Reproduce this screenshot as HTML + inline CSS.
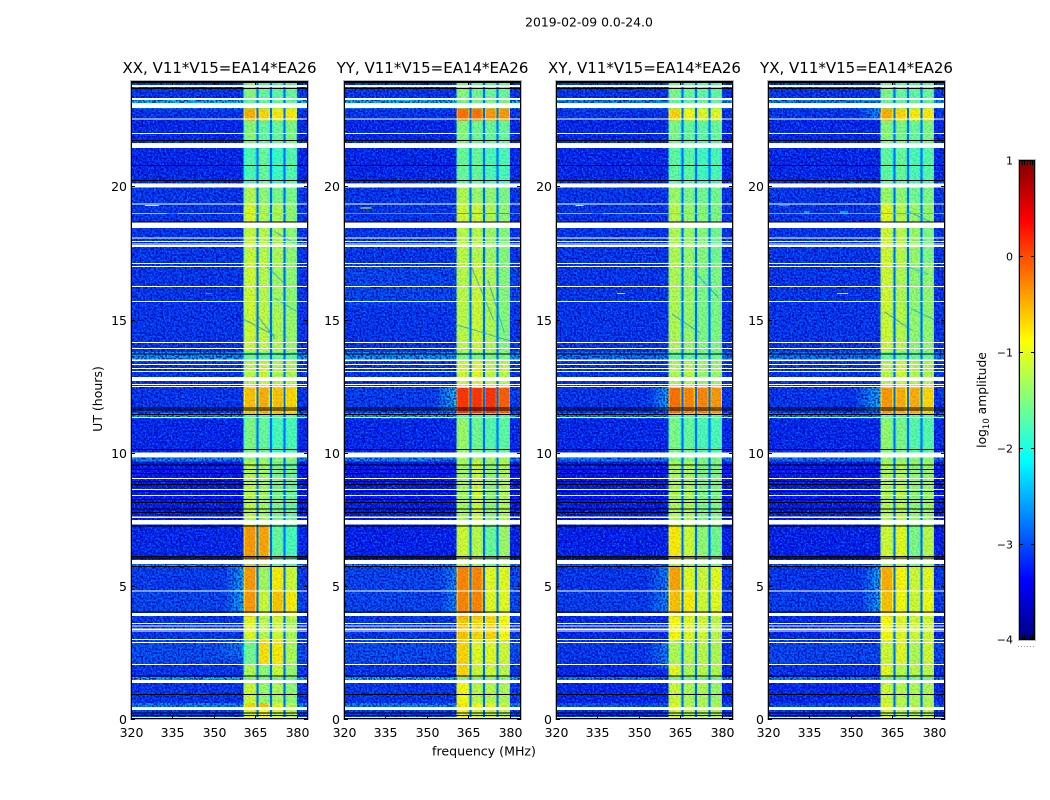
<!DOCTYPE html>
<html lang="en">
<head>
<meta charset="utf-8">
<title>2019-02-09 waterfall</title>
<style>
html,body{margin:0;padding:0;background:#fff;width:1050px;height:800px;overflow:hidden}
svg{display:block}
text{font-family:"DejaVu Sans","Liberation Sans",sans-serif;fill:#000}
</style>
</head>
<body>
<svg id="chart" xmlns="http://www.w3.org/2000/svg" width="1050" height="800" viewBox="0 0 1050 800">
  <defs>
    <filter id="speckle" x="0" y="0" width="100%" height="100%" color-interpolation-filters="sRGB">
      <feTurbulence type="fractalNoise" baseFrequency="0.62" numOctaves="1" seed="7"/>
      <feColorMatrix type="matrix" values="0 0 0 0 0  0 0 0 0 0.5  0 0 0 0 1  5 0 0 0 -2.3"/>
    </filter>
    <filter id="speckleDark" x="0" y="0" width="100%" height="100%" color-interpolation-filters="sRGB">
      <feTurbulence type="fractalNoise" baseFrequency="0.55" numOctaves="1" seed="23"/>
      <feColorMatrix type="matrix" values="0 0 0 0 0  0 0 0 0 0  0 0 0 0 0.62  5 0 0 0 -2.2"/>
    </filter>
  </defs>
  <text x="589" y="26.5" text-anchor="middle" font-size="12.4">2019-02-09 0.0-24.0</text>
  <text x="484" y="755.5" text-anchor="middle" font-size="12.6">frequency (MHz)</text>
  <text x="0" y="0" transform="translate(102,399) rotate(-90)" text-anchor="middle" font-size="12.5">UT (hours)</text>
  <text x="0" y="0" transform="translate(986,400) rotate(-90)" text-anchor="middle" font-size="12.3">log<tspan font-size="8.5" dy="3">10</tspan><tspan dy="-3"> amplitude</tspan></text>
  <g id="panels"></g>
  <g id="colorbar"></g>
</svg>
<script>
// ---- chart data (log10 amplitude, UT hours, MHz) ----
const panelTitles = ["XX, V11*V15=EA14*EA26","YY, V11*V15=EA14*EA26","XY, V11*V15=EA14*EA26","YX, V11*V15=EA14*EA26"];
const freqTicks = [320,335,350,365,380];
const utTicks = [0,5,10,15,20];
const colorbarTicks = [-4,-3,-2,-1,0,1];

// Time segments (lower, upper edge in UT hours)
const segmentEdges = [[0,0.46],[0.46,0.62],[0.62,1.46],[1.46,1.6],[1.6,2.05],[2.05,3.0],[3.0,3.87],[3.87,4.8],[4.8,5.72],[5.72,5.82],[5.82,7.3],[7.3,9.68],[9.68,9.82],[9.82,11.3],[11.3,11.5],[11.5,12.45],[12.45,13.45],[13.45,13.8],[13.8,15.5],[15.5,17.1],[17.1,18.7],[18.7,19.35],[19.35,20.0],[20.0,20.15],[20.15,21.5],[21.5,22.5],[22.5,22.95],[22.95,23.3],[23.3,24]];

// Each row: [background, sub-band 1, sub-band 2, sub-band 3, sub-band 4]
const levelsXX = [[-3.0,-1.0,-0.9,-1.1,-1.2],[-2.6,-0.7,-0.6,-1.0,-1.2],[-3.1,-1.1,-1.35,-1.25,-1.4],[-2.35,-1.5,-1.5,-1.6,-1.6],[-3.1,-1.25,-1.4,-1.1,-1.35],[-2.95,-1.55,-0.75,-0.8,-1.25],[-3.1,-1.0,-1.2,-1.1,-1.25],[-3.0,-0.4,-1.1,-0.6,-0.8],[-3.05,-0.4,-1.3,-0.8,-1.1],[-2.35,-1.6,-1.6,-1.6,-1.6],[-3.2,-0.4,-0.45,-1.6,-1.75],[-3.3,-1.2,-1.3,-1.5,-1.6],[-2.6,-1.4,-1.4,-1.4,-1.4],[-3.2,-1.5,-1.6,-1.75,-1.75],[-2.5,-1.6,-1.6,-1.6,-1.6],[-3.1,-0.6,-0.5,-0.6,-0.7],[-3.1,-1.2,-1.1,-1.25,-1.25],[-2.5,-1.6,-1.6,-1.6,-1.6],[-3.1,-1.1,-1.15,-1.25,-1.35],[-3.1,-1.1,-1.2,-1.3,-1.4],[-3.1,-1.15,-1.2,-1.25,-1.4],[-3.1,-1.05,-1.25,-1.25,-1.4],[-3.1,-1.25,-1.4,-1.5,-1.5],[-2.5,-1.4,-1.4,-1.4,-1.4],[-3.2,-1.75,-1.6,-1.8,-1.7],[-3.2,-1.45,-1.6,-1.6,-1.5],[-3.1,-0.5,-0.7,-0.8,-0.8],[-2.35,-1.6,-1.6,-1.6,-1.6],[-3.1,-1.45,-1.6,-1.65,-1.6]];
const levelsYY = [[-3.0,-0.9,-1.1,-1.1,-1.2],[-2.6,-0.8,-0.9,-1.0,-1.1],[-3.1,-0.9,-1.2,-1.2,-1.25],[-2.35,-1.5,-1.5,-1.5,-1.5],[-3.1,-0.7,-1.1,-1.1,-1.2],[-2.95,-0.7,-1.0,-1.0,-1.1],[-3.1,-0.6,-0.7,-0.7,-0.9],[-3.0,-0.3,-0.3,-1.0,-1.0],[-3.0,-0.3,-0.3,-1.0,-1.0],[-2.35,-1.4,-1.4,-1.4,-1.4],[-3.25,-1.1,-1.2,-1.6,-1.35],[-3.3,-1.3,-1.1,-1.4,-1.25],[-2.6,-1.3,-1.3,-1.3,-1.3],[-3.2,-1.35,-1.55,-1.7,-1.65],[-2.4,-1.6,-1.6,-1.6,-1.6],[-3.05,0.1,0.1,0.1,-0.1],[-3.1,-1.1,-1.0,-1.2,-1.2],[-2.5,-1.5,-1.5,-1.5,-1.5],[-3.1,-1.2,-1.1,-1.25,-1.45],[-3.0,-1.2,-1.1,-1.25,-1.45],[-3.1,-1.2,-1.2,-1.35,-1.45],[-3.1,-1.1,-1.1,-1.25,-1.4],[-3.1,-1.25,-1.35,-1.4,-1.5],[-2.5,-1.4,-1.4,-1.4,-1.4],[-3.2,-1.6,-1.6,-1.75,-1.75],[-3.2,-1.45,-1.55,-1.6,-1.6],[-3.1,-0.2,-0.2,-0.4,-0.4],[-2.35,-1.5,-1.5,-1.5,-1.5],[-3.1,-1.45,-1.55,-1.6,-1.6]];
const levelsXY = [[-3.1,-1.1,-1.2,-1.25,-1.25],[-2.9,-1.0,-1.2,-1.25,-1.25],[-3.2,-1.1,-1.25,-1.25,-1.35],[-2.6,-1.6,-1.6,-1.6,-1.6],[-3.2,-1.0,-1.25,-1.2,-1.25],[-3.1,-1.25,-1.2,-1.2,-1.25],[-3.2,-0.9,-1.0,-1.1,-1.2],[-3.05,-0.6,-0.8,-1.1,-1.0],[-3.1,-0.45,-1.0,-1.1,-1.0],[-2.7,-1.5,-1.5,-1.5,-1.5],[-3.25,-0.8,-1.1,-1.4,-1.55],[-3.3,-1.25,-1.25,-1.5,-1.5],[-2.7,-1.5,-1.5,-1.5,-1.5],[-3.2,-1.5,-1.6,-1.75,-1.75],[-2.6,-1.6,-1.6,-1.6,-1.6],[-3.1,-0.2,-0.3,-0.3,-0.4],[-3.1,-1.25,-1.2,-1.35,-1.35],[-2.7,-1.6,-1.6,-1.6,-1.6],[-3.1,-1.25,-1.35,-1.5,-1.5],[-3.1,-1.25,-1.35,-1.5,-1.5],[-3.1,-1.25,-1.35,-1.45,-1.55],[-3.1,-1.2,-1.35,-1.45,-1.5],[-3.1,-1.35,-1.5,-1.55,-1.55],[-2.6,-1.5,-1.5,-1.5,-1.5],[-3.2,-1.65,-1.65,-1.8,-1.75],[-3.2,-1.5,-1.6,-1.65,-1.6],[-3.1,-0.7,-0.9,-1.0,-1.0],[-2.6,-1.6,-1.6,-1.6,-1.6],[-3.1,-1.5,-1.6,-1.65,-1.65]];
const levelsYX = [[-3.1,-1.1,-1.2,-1.2,-1.2],[-2.9,-1.0,-1.2,-1.2,-1.2],[-3.2,-1.1,-1.2,-1.25,-1.25],[-2.6,-1.6,-1.6,-1.6,-1.6],[-3.15,-1.0,-1.2,-1.2,-1.2],[-3.0,-1.1,-1.0,-1.25,-1.1],[-3.2,-0.9,-1.0,-1.1,-1.1],[-3.05,-0.6,-0.9,-1.1,-0.95],[-3.1,-0.5,-0.85,-1.1,-1.0],[-2.7,-1.5,-1.5,-1.5,-1.5],[-3.25,-1.1,-1.0,-1.5,-1.2],[-3.3,-1.25,-1.2,-1.4,-1.35],[-2.7,-1.4,-1.4,-1.4,-1.4],[-3.2,-1.4,-1.5,-1.7,-1.7],[-2.6,-1.6,-1.6,-1.6,-1.6],[-3.1,-0.4,-0.5,-0.5,-0.7],[-3.1,-1.2,-1.1,-1.25,-1.25],[-2.7,-1.6,-1.6,-1.6,-1.6],[-3.1,-1.1,-1.2,-1.4,-1.4],[-3.1,-1.1,-1.25,-1.4,-1.4],[-3.1,-1.1,-1.2,-1.35,-1.5],[-3.1,-1.0,-1.2,-1.35,-1.4],[-3.1,-1.35,-1.4,-1.55,-1.5],[-2.6,-1.5,-1.5,-1.5,-1.5],[-3.2,-1.65,-1.6,-1.75,-1.7],[-3.2,-1.45,-1.5,-1.6,-1.5],[-3.1,-0.5,-0.7,-0.8,-0.8],[-2.6,-1.6,-1.6,-1.6,-1.6],[-3.1,-1.5,-1.6,-1.65,-1.6]];

// Frequency columns: [low MHz, high MHz, source column in the rows above, level offset]
const freqColumns = [[320,360.6,0,0],[360.6,361.2,1,-0.25],[361.2,364.9,1,0],[364.9,365.3,1,-0.3],[365.9,366.4,2,-0.25],[366.4,369.8,2,0],[369.8,370.2,2,-0.3],[370.8,371.3,3,-0.25],[371.3,374.8,3,0],[374.8,375.2,3,-0.3],[375.8,376.3,4,-0.25],[376.3,379.6,4,0],[379.6,380.1,4,-0.3],[380.1,384,0,0]];
// Narrow gaps between the sub-bands: [low MHz, high MHz]
const gapChannels = [[365.3,365.9],[370.2,370.8],[375.2,375.8]];
const gapLevel = -2.85;
// Channels outside the band, where the receiver noise is visible: [low MHz, high MHz]
const noiseRegions = [[320,360.6],[380.1,384]];
// Channels inside the band, with a much fainter grain
const grainRegions = [[360.6,380.1]];

// Flagged (white) UT ranges common to all polarisations
const flaggedRanges = [[23.73,23.81],[23.24,23.32],[22.94,23.13],[22.51,22.55],[21.97,22.0],[21.44,21.63],[19.96,20.11],[19.32,19.36],[18.44,18.66],[18.04,18.08],[17.91,17.95],[17.83,17.85],[17.72,17.8],[17.09,17.12],[16.97,17.01],[16.22,16.26],[15.66,15.7],[14.12,14.16],[13.89,13.93],[13.44,13.5],[13.29,13.33],[13.14,13.18],[13.03,13.07],[12.69,12.84],[12.54,12.58],[12.47,12.5],[11.3,11.34],[9.82,10.01],[9.01,9.05],[8.6,8.64],[8.37,8.41],[7.55,7.6],[7.3,7.47],[5.82,5.97],[4.79,4.83],[3.87,3.99],[3.57,3.6],[3.47,3.51],[3.35,3.39],[3.29,3.32],[2.97,3.0],[2.85,2.89],[2.03,2.07],[1.36,1.46],[0.34,0.46],[0.04,0.075]];
// Zero-amplitude (black) integrations
const blackRows = [23.93,23.69,21.74,20.8,20.24,18.68,13.72,11.7,11.62,11.45,10.14,9.56,9.39,9.24,8.94,8.82,8.56,8.26,8.15,7.9,7.78,7.27,6.13,6.06,5.75,4.04,1.63,0.93,0.25,0.15];

// Elevated skirt left of the band: [panel, UT low, UT high, MHz low, level]
const skirts = [[0,3.95,5.8,354,-2.3],[0,2.3,3.0,351,-2.6],[1,11.55,12.45,353,-2.0],[1,3.95,5.8,355,-2.5],[2,11.55,12.45,354,-2.3],[2,4.0,5.7,353,-2.5],[2,1.9,2.9,353,-2.5],[3,11.55,12.45,352,-2.2],[3,4.0,5.8,354,-2.3],[3,22.5,22.95,353,-2.4]];
// Narrowband RFI blips: [panel, MHz low, MHz high, UT, level]
const rfiBlips = [[0,320,384,19.0,-1.8],[0,325,330,19.3,-0.9],[0,333,337,19.0,0.1],[0,352,355,19.0,-0.6],[0,347,349,16.0,0.0],[2,320,384,19.0,-2.1],[2,327,330,19.3,-0.9],[2,333,337,19.0,0.1],[2,351,354,19.0,-1.0],[1,326,330,19.2,-1.0],[1,320,384,19.0,-2.5],[3,320,384,19.0,-2.3],[3,324,328,19.3,0.0],[3,333,335,19.05,-1.6],[3,346,349,19.05,-1.8],[2,342,345,16.0,-1.3],[3,345,349,16.0,-1.2]];
// Dark diagonal tracks inside the bands: [panel, MHz start, UT start, MHz end, UT end, level]
const bandTracks = [[0,361,15.0,372,14.4,-2.7],[0,366,15.1,372,14.3,-2.7],[0,369,17.0,376,16.3,-2.6],[0,372,15.8,380,15.3,-2.6],[0,372,18.3,380,17.8,-2.6],[1,361,14.8,380,14.2,-2.6],[1,366,17.0,374,15.0,-2.6],[1,372,16.5,378,14.5,-2.6],[2,362,15.2,372,14.5,-2.7],[2,370,16.8,379,15.8,-2.6],[3,362,15.3,372,14.6,-2.7],[3,370,17.0,378,16.7,-2.5],[3,372,15.4,380,15.0,-2.6],[3,370,19.1,380,18.6,-2.6]];

const allLevels = [levelsXX, levelsYY, levelsXY, levelsYX];

// ---- layout ----
const SVGNS = "http://www.w3.org/2000/svg";
const panelLeft = [131,344,556,768];
const panelW = 177, plotTop = 81, plotBottom = 719;
const F0 = 320, F1 = 384, T0 = 0, T1 = 23.96;
const xAxis = (p, f) => panelLeft[p] + (f - F0) / (F1 - F0) * panelW;
const yAxis = t => plotBottom - (t - T0) / (T1 - T0) * (plotBottom - plotTop);

function jetChannel(t, shift){
  const v = 1.5 - Math.abs(4 * t - shift);
  return Math.round(255 * Math.max(0, Math.min(1, v)));
}
function colorOf(level){
  const t = Math.max(0, Math.min(1, (level + 4) / 5));
  return "rgb(" + jetChannel(t,3) + "," + jetChannel(t,2) + "," + jetChannel(t,1) + ")";
}
function make(tag, parent, attrs){
  const el = document.createElementNS(SVGNS, tag);
  for (const k in attrs) el.setAttribute(k, attrs[k]);
  parent.appendChild(el);
  return el;
}
const panelsRoot = document.getElementById("panels");

panelTitles.forEach((title, p) => {
  const g = make("g", panelsRoot, {});
  
  
  const clipId = "clip" + p;
  const defs = make("clipPath", g, {id: clipId});
  make("rect", defs, {x: panelLeft[p], y: plotTop, width: panelW, height: plotBottom - plotTop});

  const heat = make("g", g, {"clip-path": "url(#" + clipId + ")", "shape-rendering": "crispEdges"});
  
  

  const levels = allLevels[p];
  segmentEdges.forEach((edge, s) => {
    const yTop = yAxis(edge[1]), yBot = yAxis(edge[0]);
    freqColumns.forEach(col => {
      const x0 = xAxis(p, col[0]), x1 = xAxis(p, col[1]);
      const level = levels[s][col[2]] + col[3];
      const cell = make("rect", heat, {x: x0, y: yTop, width: x1 - x0 + 0.4, height: yBot - yTop + 0.4, fill: colorOf(level)});
      
      
    });
    gapChannels.forEach(gap => {
      const x0 = xAxis(p, gap[0]), x1 = xAxis(p, gap[1]);
      const cell = make("rect", heat, {x: x0, y: yTop, width: x1 - x0 + 0.4, height: yBot - yTop + 0.4, fill: colorOf(gapLevel)});
      
      
    });
  });

  // Skirts fade out towards low frequency
  skirts.filter(k => k[0] === p).forEach(k => {
    const stepCount = 6;
    for (let i = 0; i < stepCount; i++) {
      const f0 = k[3] + (360.6 - k[3]) * i / stepCount;
      const f1 = k[3] + (360.6 - k[3]) * (i + 1) / stepCount;
      const skirt = make("rect", heat, {x: xAxis(p, f0), y: yAxis(k[2]), width: xAxis(p, f1) - xAxis(p, f0) + 0.4, height: yAxis(k[1]) - yAxis(k[2]), fill: colorOf(k[4]), opacity: (i + 1) / stepCount * 0.8});
      
      
    }
  });

  bandTracks.filter(k => k[0] === p).forEach(k => {
    const track = make("line", heat, {x1: xAxis(p, k[1]), y1: yAxis(k[2]), x2: xAxis(p, k[3]), y2: yAxis(k[4]), stroke: colorOf(k[5]), "stroke-width": 1.2, "shape-rendering": "auto", opacity: 0.55});
    
    
  });

  noiseRegions.forEach(region => {
    const nx = xAxis(p, region[0]), nw = xAxis(p, region[1]) - nx;
    const speck = make("rect", heat, {x: nx, y: plotTop, width: nw, height: plotBottom - plotTop, filter: "url(#speckle)", opacity: 0.8});
    
    
    const speckD = make("rect", heat, {x: nx, y: plotTop, width: nw, height: plotBottom - plotTop, filter: "url(#speckleDark)", opacity: 0.8});
    
    
  });
  grainRegions.forEach(region => {
    const nx = xAxis(p, region[0]), nw = xAxis(p, region[1]) - nx;
    const grain = make("rect", heat, {x: nx, y: plotTop, width: nw, height: plotBottom - plotTop, filter: "url(#speckleDark)", opacity: 0.12});
    
    
  });

  rfiBlips.filter(k => k[0] === p).forEach(k => {
    const x0 = xAxis(p, k[1]), x1 = xAxis(p, k[2]);
    const blip = make("rect", heat, {x: x0, y: yAxis(k[3]), width: x1 - x0, height: 1, fill: colorOf(k[4])});
    
    
  });

  flaggedRanges.forEach(r => {
    const row = make("rect", heat, {x: panelLeft[p], y: yAxis(r[1]), width: panelW, height: Math.max(1, yAxis(r[0]) - yAxis(r[1])), fill: "#fff"});
    
    
  });
  blackRows.forEach(t => {
    const row = make("rect", heat, {x: panelLeft[p], y: yAxis(t), width: panelW, height: 1, fill: "#000"});
    
    
  });

  const halo = make("rect", g, {x: panelLeft[p] - 0.5, y: plotTop - 0.5, width: panelW + 1, height: plotBottom - plotTop + 1, fill: "none", stroke: "#b8b8b8", "stroke-width": 1, "shape-rendering": "crispEdges"});
  
  
  const frame = make("rect", g, {x: panelLeft[p] + 0.5, y: plotTop + 0.5, width: panelW - 1, height: plotBottom - plotTop - 1, fill: "none", stroke: "#000", "stroke-width": 1, "shape-rendering": "crispEdges"});
  
  

  const titleEl = make("text", g, {x: panelLeft[p] + panelW / 2, y: 73, "text-anchor": "middle", "font-size": 15});
  titleEl.textContent = title;
  
  

  freqTicks.forEach(f => {
    const x = Math.round(xAxis(p, f)) + 0.5;
    const t1 = make("line", g, {x1: x, x2: x, y1: plotBottom, y2: plotBottom - 4, stroke: "#000"});
    
    
    const t2 = make("line", g, {x1: x, x2: x, y1: plotTop, y2: plotTop + 4, stroke: "#000"});
    
    
    const label = make("text", g, {x: x, y: 737, "text-anchor": "middle", "font-size": 12.5});
    label.textContent = f;
    
    
  });
  utTicks.forEach(u => {
    const y = Math.round(yAxis(u)) + 0.5;
    const t1 = make("line", g, {x1: panelLeft[p], x2: panelLeft[p] + 4, y1: y, y2: y, stroke: "#000"});
    
    
    const t2 = make("line", g, {x1: panelLeft[p] + panelW, x2: panelLeft[p] + panelW - 4, y1: y, y2: y, stroke: "#000"});
    
    
    const label = make("text", g, {x: panelLeft[p] - 4, y: y + 4.5, "text-anchor": "end", "font-size": 12.5});
    label.textContent = u;
    
    
  });
});

// ---- colorbar ----
const cbRoot = document.getElementById("colorbar");
const cbX = 1019, cbW = 16, cbTop = 160, cbBottom = 640;
const cbMin = -4, cbMax = 1;
const cbY = v => cbBottom - (v - cbMin) / (cbMax - cbMin) * (cbBottom - cbTop);
const cbSteps = 240;
const cbSwatches = make("g", cbRoot, {"shape-rendering": "crispEdges"});
for (let i = 0; i < cbSteps; i++) {
  const v0 = cbMin + (cbMax - cbMin) * i / cbSteps;
  const v1 = cbMin + (cbMax - cbMin) * (i + 1) / cbSteps;
  const sw = make("rect", cbSwatches, {x: cbX, y: cbY(v1), width: cbW, height: cbY(v0) - cbY(v1) + 0.5, fill: colorOf((v0 + v1) / 2)});
  
  
}
const cbHalo = make("rect", cbRoot, {x: cbX - 0.5, y: cbTop - 0.5, width: cbW + 1, height: cbBottom - cbTop + 1, fill: "none", stroke: "#b8b8b8", "shape-rendering": "crispEdges"});


const cbFrame = make("rect", cbRoot, {x: cbX + 0.5, y: cbTop + 0.5, width: cbW - 1, height: cbBottom - cbTop - 1, fill: "none", stroke: "#000", "shape-rendering": "crispEdges"});


colorbarTicks.forEach(v => {
  const y = Math.round(cbY(v)) + (v === cbMin ? -0.5 : 0.5);
  const t1 = make("line", cbRoot, {x1: cbX, x2: cbX + 4, y1: y, y2: y, stroke: "#000"});
  
  
  const t2 = make("line", cbRoot, {x1: cbX + cbW, x2: cbX + cbW - 4, y1: y, y2: y, stroke: "#000"});
  
  
  const label = make("text", cbRoot, {x: cbX - 6, y: y + 4, "text-anchor": "end", "font-size": 11});
  label.textContent = v < 0 ? "\u2212" + Math.abs(v) : String(v);
  
  
});
for (let i = 1; i < 6; i++) {
  const x = cbX + Math.round(i * cbW / 6) + 0.5;
  const top = make("line", cbRoot, {x1: x, x2: x, y1: cbTop, y2: cbTop + 5, stroke: "#000"});
  
  
  const bottom = make("line", cbRoot, {x1: x, x2: x, y1: cbBottom, y2: cbBottom - 5, stroke: "#000"});
  
  
}
for (let i = 0; i < 6; i++) {
  const dot = make("rect", cbRoot, {x: 1018 + i * 3, y: 646, width: 1, height: 1, fill: "#999"});
  
  
}
</script>
</body>
</html>
